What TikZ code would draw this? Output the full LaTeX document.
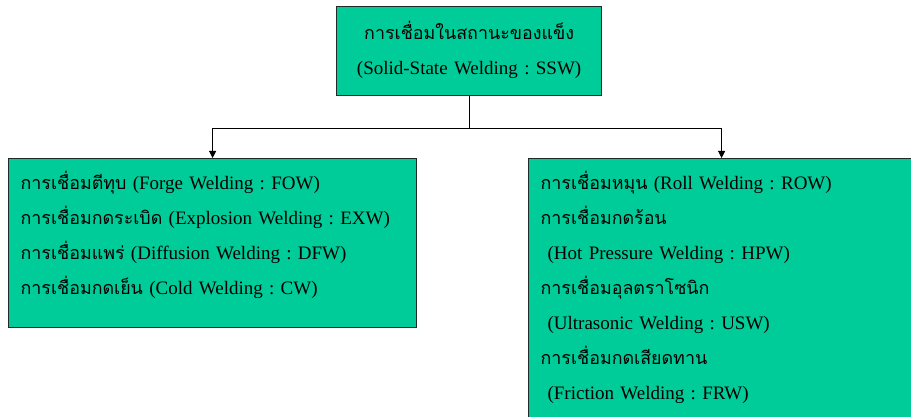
\documentclass[tikz,border=0pt]{standalone}
\usepackage{fontspec}
\setmainfont{Liberation Serif}
\newfontfamily\thaifont[Script=Thai,Scale=0.94]{Loma}
\usetikzlibrary{arrows.meta,positioning}
\newcommand{\thtxt}[1]{{\thaifont #1}}
\definecolor{sswgreen}{HTML}{00CC99}
\definecolor{sswink}{HTML}{1F2A26}
\frenchspacing
\tikzset{
  greenBox/.style={draw=sswink, fill=sswgreen, line width=1.2pt, inner xsep=12pt, inner ysep=0pt, align=left, font=\fontsize{19}{35}\selectfont},
  linkArrow/.style={-{Triangle[length=7pt,width=7pt]}, line width=0.9pt, draw=black}
}

\begin{document}
\begin{tikzpicture}[x=1pt,y=-1pt]
  \useasboundingbox (0,0) rectangle (911,417);
  \clip (0,0) rectangle (911,417);
  \node[greenBox, anchor=north west, text width=241pt, align=center, text height=33pt, text depth=56pt] (ssw) at (336,6)
    {\thtxt{การเชื่อมในสถานะของแข็ง}\\(Solid-State Welding : SSW)};
  \node[greenBox, anchor=north west, text width=384pt, text height=31pt, text depth=138pt] (forgeGroup) at (8,158)
    {\thtxt{การเชื่อมตีทุบ} (Forge Welding : FOW)\\
     \thtxt{การเชื่อมกดระเบิด} (Explosion Welding : EXW)\\
     \thtxt{การเชื่อมแพร่} (Diffusion Welding : DFW)\\
     \thtxt{การเชื่อมกดเย็น} (Cold Welding : CW)};
  \node[greenBox, anchor=north west, text width=362pt, text height=31pt, text depth=241pt] (rollGroup) at (528,158)
    {\thtxt{การเชื่อมหมุน} (Roll Welding : ROW)\\
     \thtxt{การเชื่อมกดร้อน}\\
     \hspace*{7pt}(Hot Pressure Welding : HPW)\\
     \thtxt{การเชื่อมอุลตราโซนิก}\\
     \hspace*{7pt}(Ultrasonic Welding : USW)\\
     \thtxt{การเชื่อมกดเสียดทาน}\\
     \hspace*{7pt}(Friction Welding : FRW)};

  \coordinate[below=32pt of ssw.south] (split);
  \draw[linkArrow] (ssw.south) -- (split) -| (forgeGroup.north);
  \draw[linkArrow] (split) -| (rollGroup.north);
\end{tikzpicture}
\end{document}
